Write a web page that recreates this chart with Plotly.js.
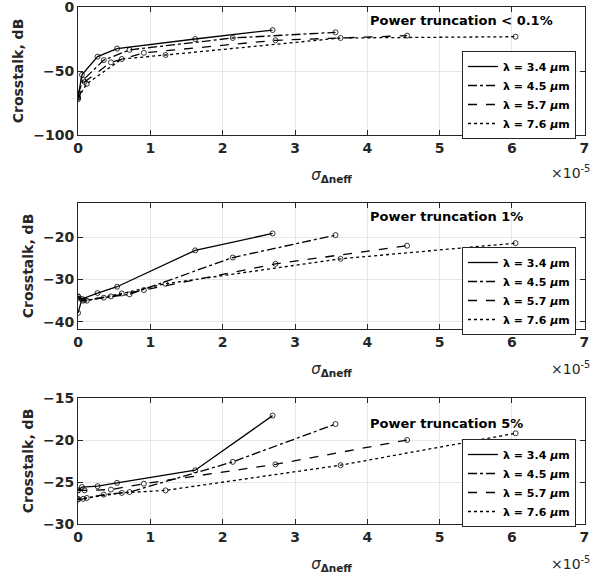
<!DOCTYPE html>
<html>
<head>
<meta charset="utf-8">
<script src="https://cdn.plot.ly/plotly-3.0.1.min.js"></script>
<style>html,body{margin:0;padding:0;background:#fff;}#chart{width:607px;height:577px;}</style>
</head>
<body>
<div id="chart"></div>
<script>
// sigma_Delta_neff sample points (x 1e-5) per wavelength
const x34 = [0, 0.054, 0.27, 0.54, 1.62, 2.69];
const x45 = [0, 0.071, 0.356, 0.712, 2.14, 3.56];
const x57 = [0, 0.091, 0.455, 0.91, 2.73, 4.55];
const x76 = [0, 0.121, 0.605, 1.21, 3.63, 6.05];

// Power truncation < 0.1%
const p01_34 = [-70.5, -53.0, -38.8, -32.5, -25.0, -18.0];
const p01_45 = [-68.0, -57.0, -41.5, -33.5, -24.2, -19.8];
const p01_57 = [-72.0, -58.5, -43.2, -35.8, -26.0, -22.4];
const p01_76 = [-71.0, -60.0, -40.6, -37.5, -24.2, -23.2];

// Power truncation 1%
const p1_34 = [-37.9, -34.6, -33.2, -31.7, -23.1, -19.1];
const p1_45 = [-34.0, -35.0, -34.3, -33.5, -24.8, -19.5];
const p1_57 = [-34.0, -34.8, -34.0, -32.5, -26.3, -22.0];
const p1_76 = [-34.5, -35.0, -33.3, -31.0, -25.1, -21.4];

// Power truncation 5%
const p5_34 = [-26.0, -25.6, -25.5, -25.1, -23.6, -17.1];
const p5_45 = [-27.1, -27.0, -26.5, -26.2, -22.6, -18.1];
const p5_57 = [-26.0, -26.0, -25.9, -25.2, -22.9, -20.0];
const p5_76 = [-27.0, -26.9, -26.3, -26.0, -23.0, -19.2];

const seriesNames = ['λ = 3.4 <i>μ</i>m', 'λ = 4.5 <i>μ</i>m', 'λ = 5.7 <i>μ</i>m', 'λ = 7.6 <i>μ</i>m'];
const dashes = ['solid', 'dashdot', 'dash', 'dot'];
const panelTitles = ['Power truncation < 0.1%', 'Power truncation 1%', 'Power truncation 5%'];
const yTickVals = [[-100, -50, 0], [-40, -30, -20], [-30, -25, -20, -15]];
const xTickVals = [0, 1, 2, 3, 4, 5, 6, 7];

const xs = [x34, x45, x57, x76];
const panels = [
  [p01_34, p01_45, p01_57, p01_76],
  [p1_34, p1_45, p1_57, p1_76],
  [p5_34, p5_45, p5_57, p5_76]
];

const FONT = 'DejaVu Sans, Liberation Sans, sans-serif';
const TXT = '#262626';
const traces = [];
panels.forEach((ser, pi) => {
  const s = pi === 0 ? '' : String(pi + 1);
  ser.forEach((ys, si) => {
    traces.push({
      x: xs[si], y: ys, type: 'scatter', mode: 'lines',
      name: seriesNames[si], xaxis: 'x' + s, yaxis: 'y' + s,
      legend: 'legend' + s,
      line: {color: '#000', width: 1.3, dash: dashes[si]}
    });
    traces.push({
      x: xs[si], y: ys, type: 'scatter', mode: 'markers', showlegend: false,
      xaxis: 'x' + s, yaxis: 'y' + s,
      marker: {symbol: 'circle-open', size: 5, color: '#000', line: {width: 0.8, color: '#000'}}
    });
  });
});

const H = 517, T = 7;
function dom(top, bot) { return [(T + H - bot) / H, (T + H - top) / H]; }
const domains = [dom(7, 135), dom(203, 329), dom(398, 524)];
const yRanges = [[-100.001, 0.001], [-41.7, -11.9], [-30.0005, -14.9995]];

const axBase = {
  showline: true, linecolor: TXT, linewidth: 1, mirror: 'ticks',
  ticks: 'inside', ticklen: 5, tickcolor: TXT, tickwidth: 1,
  showgrid: true, gridcolor: '#e6e6e6', gridwidth: 1, zeroline: false,
  ticklabeloverflow: 'allow',
  tickfont: {family: FONT, size: 14, color: TXT, weight: 'bold'}
};

const layout = {
  width: 607, height: 577,
  margin: {l: 78, r: 22, t: T, b: 53},
  paper_bgcolor: '#fff', plot_bgcolor: '#fff',
  font: {family: FONT, color: TXT},
  annotations: []
};
const legY = [51, 247, 439];
for (let i = 0; i < 3; i++) {
  const s = i === 0 ? '' : String(i + 1);
  layout['xaxis' + s] = Object.assign({}, axBase, {
    range: [-0.0005, 7.01], tickvals: xTickVals, anchor: 'y' + s, domain: [0, 1],
    title: {text: '<i>σ</i><sub><b>Δneff</b></sub>', font: {family: FONT, size: 15, color: TXT}, standoff: 14}
  });
  layout['yaxis' + s] = Object.assign({}, axBase, {
    range: yRanges[i], tickvals: yTickVals[i], domain: domains[i], anchor: 'x' + s,
    title: {text: 'Crosstalk, dB', font: {family: FONT, size: 14, color: TXT, weight: 'bold'}, standoff: 6}
  });
  layout['legend' + s] = {
    x: (576 - 78) / 507, xanchor: 'right', xref: 'paper',
    y: (T + H - legY[i]) / H, yanchor: 'top', yref: 'paper',
    bgcolor: '#fff', bordercolor: TXT, borderwidth: 1,
    font: {family: FONT, size: 11, color: '#000', weight: 'bold'},
    tracegroupgap: 0, itemwidth: 30
  };
  layout.annotations.push({
    text: panelTitles[i], xref: 'paper', yref: 'paper',
    x: (368 - 78) / 507, xanchor: 'left',
    y: (T + H - [20, 217, 423][i]) / H, yanchor: 'middle',
    showarrow: false, font: {family: FONT, size: 13, color: '#000', weight: 'bold'}
  });
  layout.annotations.push({
    text: '×10<sup>-5</sup>', xref: 'paper', yref: 'paper',
    x: (592 - 78) / 507, xanchor: 'right',
    y: (T + H - [172, 368, 563][i]) / H, yanchor: 'middle',
    showarrow: false, font: {family: FONT, size: 14, color: TXT}
  });
}

Plotly.newPlot('chart', traces, layout, {staticPlot: true, displayModeBar: false});
</script>
</body>
</html>
